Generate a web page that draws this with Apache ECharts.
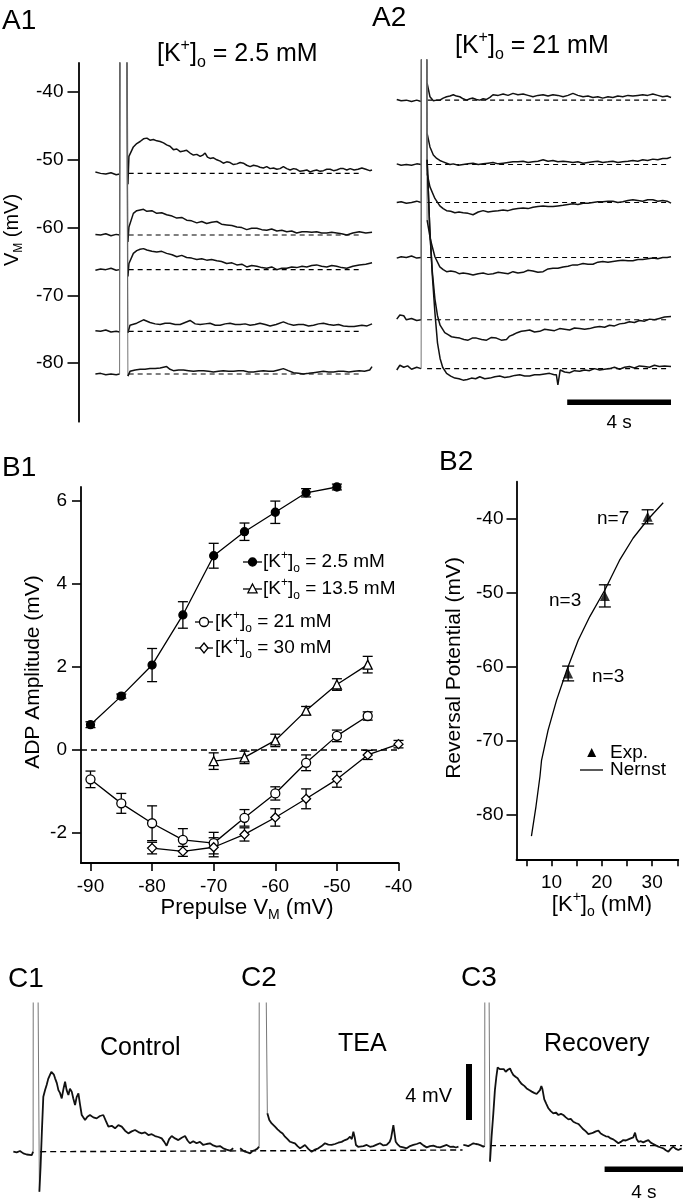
<!DOCTYPE html>
<html><head><meta charset="utf-8">
<script src="https://cdn.jsdelivr.net/npm/echarts@6/dist/echarts.min.js"></script>
<style>html,body{margin:0;padding:0;background:#fff}#c{width:686px;height:1200px}</style>
</head><body><div id="c"></div>
<script>
// ---------------- DATA ----------------
// Panel A1: [K+]o = 2.5 mM, time (s, 0 = stimulus) vs membrane potential (mV); 20 = spike peak (off scale)
const A1_BASE = [-52.0, -61.1, -66.2, -75.3, -81.6];
const A1_DASH_T = [0.33, 9.2];
const A1_T1 = [[-0.95,-51.8],[-0.75,-52.0],[-0.55,-52.1],[-0.35,-51.9],[-0.15,-52.2],[-0.02,-52.1],[0.01,20],[0.2,20],[0.3,-53.6],[0.34,-49.5],[0.51,-48.1],[0.64,-47.6],[0.77,-47.3],[0.9,-46.9],[1.03,-46.8],[1.15,-47.1],[1.28,-47.0],[1.41,-47.2],[1.54,-47.3],[1.67,-47.5],[1.79,-47.8],[1.92,-48.0],[2.05,-48.5],[2.18,-48.4],[2.31,-48.8],[2.44,-48.7],[2.56,-48.6],[2.69,-49.0],[2.82,-49.3],[2.95,-49.2],[3.08,-49.5],[3.18,-49.3],[3.27,-49.0],[3.36,-49.6],[3.46,-49.8],[3.59,-49.7],[3.72,-50.0],[3.85,-50.2],[3.97,-50.5],[4.1,-50.3],[4.23,-50.4],[4.36,-50.7],[4.49,-50.6],[4.62,-50.4],[4.74,-50.5],[4.87,-50.8],[5.0,-51.0],[5.13,-50.8],[5.26,-50.9],[5.38,-51.1],[5.51,-51.2],[5.64,-51.0],[5.77,-51.3],[5.9,-51.2],[6.03,-51.4],[6.15,-51.3],[6.28,-51.0],[6.41,-51.3],[6.54,-51.5],[6.67,-51.3],[6.79,-51.4],[6.92,-51.7],[7.05,-51.6],[7.18,-51.5],[7.31,-51.8],[7.44,-51.6],[7.56,-51.5],[7.69,-51.7],[7.82,-51.6],[7.95,-51.4],[8.08,-51.4],[8.21,-51.6],[8.33,-51.5],[8.46,-51.3],[8.59,-51.3],[8.72,-51.5],[8.85,-51.3],[9.0,-51.5],[9.15,-51.4],[9.3,-51.2],[9.45,-51.4],[9.6,-51.6],[9.69,-51.5]];
const A1_T2 = [[-0.95,-61.0],[-0.75,-61.1],[-0.55,-60.9],[-0.35,-61.2],[-0.15,-61.0],[-0.02,-61.1],[0.01,20],[0.2,20],[0.3,-62.1],[0.34,-59.9],[0.51,-57.9],[0.64,-57.5],[0.77,-57.4],[0.9,-57.3],[1.03,-57.6],[1.22,-57.5],[1.41,-57.9],[1.6,-57.8],[1.79,-58.1],[2.0,-58.3],[2.18,-58.6],[2.37,-58.5],[2.56,-58.9],[2.75,-59.0],[2.95,-59.3],[3.14,-59.1],[3.33,-59.4],[3.52,-59.2],[3.72,-59.1],[3.9,-59.5],[4.1,-59.6],[4.3,-59.7],[4.49,-59.9],[4.68,-60.0],[4.87,-60.3],[5.06,-60.1],[5.26,-60.1],[5.45,-60.3],[5.64,-60.4],[5.83,-60.2],[6.03,-60.5],[6.22,-60.4],[6.41,-60.6],[6.6,-60.5],[6.79,-60.8],[7.0,-60.6],[7.18,-60.6],[7.37,-60.7],[7.56,-60.6],[7.75,-60.8],[7.95,-60.8],[8.14,-60.7],[8.33,-60.8],[8.52,-60.9],[8.72,-61.1],[8.95,-60.8],[9.2,-60.6],[9.45,-60.8],[9.69,-60.7]];
const A1_T3 = [[-0.95,-66.3],[-0.75,-66.1],[-0.55,-66.2],[-0.35,-66.0],[-0.15,-66.3],[-0.02,-66.2],[0.01,20],[0.2,20],[0.3,-67.2],[0.34,-65.3],[0.51,-63.8],[0.64,-63.4],[0.77,-63.2],[0.9,-63.1],[1.03,-63.3],[1.22,-63.5],[1.41,-63.6],[1.6,-63.5],[1.79,-63.8],[2.0,-64.0],[2.18,-64.3],[2.37,-64.1],[2.56,-64.4],[2.75,-64.5],[2.95,-64.7],[3.14,-64.6],[3.33,-64.8],[3.52,-64.7],[3.72,-64.9],[3.9,-65.0],[4.1,-65.3],[4.3,-65.2],[4.49,-65.5],[4.68,-65.4],[4.87,-65.8],[5.06,-65.6],[5.26,-65.7],[5.45,-65.9],[5.64,-66.0],[5.83,-65.8],[6.03,-66.2],[6.22,-66.0],[6.41,-66.0],[6.6,-65.8],[6.79,-65.9],[7.0,-65.7],[7.18,-65.8],[7.37,-65.6],[7.56,-65.5],[7.75,-65.7],[7.95,-65.8],[8.14,-65.6],[8.33,-65.7],[8.52,-65.9],[8.72,-66.0],[8.95,-65.7],[9.2,-65.5],[9.45,-65.4],[9.69,-65.2]];
const A1_T4 = [[-0.95,-75.2],[-0.75,-75.3],[-0.55,-75.1],[-0.35,-75.4],[-0.15,-75.3],[-0.02,-75.4],[0.01,20],[0.2,20],[0.3,-75.5],[0.38,-74.4],[0.64,-74.1],[0.9,-73.6],[1.15,-74.0],[1.35,-74.2],[1.54,-74.3],[1.73,-74.1],[1.92,-74.1],[2.12,-74.3],[2.31,-74.3],[2.5,-74.0],[2.69,-73.7],[2.89,-74.2],[3.08,-74.3],[3.27,-74.2],[3.46,-74.1],[3.66,-74.4],[3.85,-74.4],[4.04,-74.2],[4.23,-74.1],[4.43,-74.3],[4.62,-74.3],[4.81,-74.2],[5.0,-74.4],[5.19,-74.3],[5.38,-74.1],[5.58,-74.3],[5.77,-74.5],[6.0,-74.3],[6.28,-73.9],[6.47,-74.2],[6.67,-74.4],[6.86,-74.3],[7.05,-74.3],[7.25,-74.5],[7.44,-74.4],[7.63,-74.2],[7.82,-74.1],[8.02,-74.3],[8.21,-74.4],[8.4,-74.3],[8.59,-74.5],[8.8,-74.6],[9.0,-74.6],[9.3,-74.4],[9.5,-74.5],[9.69,-74.2]];
const A1_T5 = [[-0.95,-81.6],[-0.75,-81.5],[-0.55,-81.7],[-0.35,-81.6],[-0.15,-81.7],[-0.02,-81.6],[0.01,20],[0.2,20],[0.3,-81.9],[0.38,-81.2],[0.58,-81.0],[0.77,-80.9],[0.96,-80.9],[1.15,-80.8],[1.35,-80.8],[1.54,-80.7],[1.79,-80.5],[1.92,-80.9],[2.05,-81.1],[2.25,-81.0],[2.44,-81.0],[2.63,-81.1],[2.82,-81.2],[3.02,-81.1],[3.21,-81.1],[3.4,-81.2],[3.59,-81.3],[3.78,-81.2],[3.97,-81.1],[4.17,-81.2],[4.36,-81.2],[4.55,-81.1],[4.74,-81.1],[4.94,-81.3],[5.13,-81.3],[5.32,-81.2],[5.51,-81.1],[5.71,-81.2],[5.9,-81.2],[6.09,-81.0],[6.28,-80.8],[6.47,-81.1],[6.67,-81.4],[6.86,-81.5],[7.05,-81.6],[7.25,-81.5],[7.44,-81.4],[7.63,-81.3],[7.82,-81.2],[8.02,-81.3],[8.21,-81.3],[8.4,-81.2],[8.59,-81.2],[8.8,-81.3],[9.0,-81.2],[9.2,-81.1],[9.4,-81.2],[9.6,-81.0],[9.69,-80.5]];

// Panel A2: [K+]o = 21 mM
const A2_BASE = [-41.2, -50.7, -56.3, -64.4, -73.6, -80.8];
const A2_DASH_T = [0.2, 9.5];
const A2_T1 = [[-0.97,-41.1],[-0.8,-41.3],[-0.6,-41.2],[-0.4,-41.4],[-0.2,-41.2],[-0.03,-41.4],[0.0,20],[0.15,20],[0.2,-38.7],[0.31,-40.7],[0.44,-41.3],[0.57,-41.2],[0.69,-41.2],[0.82,-40.9],[0.95,-40.7],[1.08,-40.6],[1.21,-40.4],[1.33,-40.6],[1.46,-40.7],[1.59,-41.0],[1.72,-41.2],[1.85,-41.0],[1.97,-40.9],[2.1,-41.1],[2.23,-41.2],[2.36,-41.0],[2.49,-41.1],[2.62,-40.8],[2.74,-40.4],[2.94,-40.5],[3.13,-40.3],[3.32,-40.5],[3.51,-40.2],[3.7,-40.4],[3.9,-40.3],[4.09,-40.5],[4.28,-40.7],[4.47,-40.5],[4.67,-40.4],[4.86,-40.6],[5.05,-40.4],[5.24,-40.5],[5.44,-40.7],[5.63,-40.5],[5.82,-40.2],[6.01,-40.5],[6.21,-40.7],[6.4,-40.6],[6.59,-40.8],[6.78,-40.7],[6.97,-40.9],[7.17,-40.7],[7.36,-40.8],[7.55,-40.6],[7.74,-40.7],[7.94,-40.5],[8.13,-40.6],[8.32,-40.5],[8.51,-40.4],[8.7,-40.5],[8.9,-40.3],[9.09,-40.5],[9.28,-40.7],[9.45,-40.6],[9.6,-40.8]];
const A2_T2 = [[-0.97,-50.6],[-0.8,-50.8],[-0.6,-50.7],[-0.4,-50.8],[-0.2,-50.6],[-0.03,-50.7],[0.0,20],[0.15,20],[0.2,-46.1],[0.31,-48.1],[0.44,-49.3],[0.57,-49.8],[0.69,-50.1],[0.82,-50.3],[0.95,-50.5],[1.08,-50.7],[1.21,-50.6],[1.4,-50.8],[1.59,-50.7],[1.78,-50.6],[1.97,-50.5],[2.17,-50.7],[2.36,-50.6],[2.55,-50.5],[2.74,-50.4],[2.94,-50.6],[3.13,-50.5],[3.32,-50.4],[3.51,-50.3],[3.7,-50.3],[3.9,-50.2],[4.09,-50.4],[4.28,-50.3],[4.47,-50.2],[4.67,-50.0],[4.86,-50.2],[5.05,-50.1],[5.24,-50.3],[5.44,-50.2],[5.63,-50.3],[5.82,-50.4],[6.01,-50.3],[6.21,-50.5],[6.4,-50.4],[6.59,-50.3],[6.78,-50.2],[6.97,-50.4],[7.17,-50.3],[7.36,-50.2],[7.55,-50.4],[7.74,-50.3],[7.94,-50.2],[8.13,-50.1],[8.32,-50.2],[8.51,-50.0],[8.7,-50.1],[8.9,-49.9],[9.09,-50.0],[9.28,-49.8],[9.45,-49.8],[9.6,-49.6]];
const A2_T3 = [[-0.97,-56.3],[-0.8,-56.2],[-0.6,-56.4],[-0.4,-56.3],[-0.2,-56.1],[-0.03,-56.3],[0.0,20],[0.15,20],[0.2,-52.0],[0.31,-54.0],[0.5,-55.7],[0.69,-56.8],[0.82,-57.2],[0.95,-57.5],[1.11,-57.6],[1.27,-57.8],[1.43,-57.7],[1.59,-57.8],[1.78,-57.9],[1.97,-58.1],[2.17,-57.7],[2.36,-57.5],[2.55,-57.7],[2.74,-57.6],[2.94,-57.5],[3.13,-57.4],[3.32,-57.5],[3.51,-57.3],[3.7,-57.2],[3.9,-57.1],[4.09,-57.2],[4.28,-57.0],[4.47,-56.9],[4.67,-56.8],[4.86,-56.9],[5.05,-56.9],[5.24,-56.8],[5.44,-56.7],[5.63,-56.6],[5.82,-56.5],[6.01,-56.6],[6.21,-56.4],[6.4,-56.4],[6.59,-56.3],[6.78,-56.2],[6.97,-56.2],[7.17,-56.1],[7.36,-56.1],[7.55,-56.3],[7.74,-56.2],[7.94,-56.0],[8.13,-55.9],[8.32,-56.0],[8.51,-56.1],[8.7,-55.9],[8.9,-55.9],[9.09,-56.1],[9.28,-56.0],[9.45,-56.1],[9.6,-56.4]];
const A2_T4 = [[-0.97,-64.5],[-0.8,-64.3],[-0.6,-64.4],[-0.4,-64.2],[-0.2,-64.5],[-0.03,-64.4],[0.0,20],[0.15,20],[0.2,-58.9],[0.33,-61.8],[0.5,-64.3],[0.69,-65.8],[0.82,-66.2],[0.95,-66.5],[1.11,-66.4],[1.27,-66.5],[1.43,-66.8],[1.59,-66.7],[1.78,-66.8],[1.97,-67.0],[2.17,-66.8],[2.36,-66.7],[2.55,-66.9],[2.74,-66.8],[2.94,-66.6],[3.13,-66.7],[3.32,-66.8],[3.51,-66.5],[3.7,-66.7],[3.9,-66.6],[4.09,-66.3],[4.28,-66.4],[4.47,-66.6],[4.67,-66.5],[4.86,-66.1],[5.05,-66.0],[5.24,-66.0],[5.44,-65.8],[5.63,-65.7],[5.82,-65.5],[6.01,-65.5],[6.21,-65.3],[6.4,-65.4],[6.59,-65.4],[6.78,-65.1],[6.97,-65.0],[7.17,-65.1],[7.36,-65.0],[7.55,-64.9],[7.74,-64.8],[7.94,-64.9],[8.13,-64.9],[8.32,-64.7],[8.51,-64.7],[8.7,-64.6],[8.9,-64.5],[9.09,-64.6],[9.28,-64.4],[9.45,-64.4],[9.6,-64.3]];
const A2_T5 = [[-0.97,-73.5],[-0.85,-72.9],[-0.7,-73.0],[-0.6,-73.6],[-0.4,-73.4],[-0.2,-73.7],[-0.03,-73.6],[0.0,20],[0.15,20],[0.2,-50.0],[0.3,-60.0],[0.4,-66.5],[0.5,-70.5],[0.6,-73.0],[0.7,-74.4],[0.88,-75.5],[1.01,-75.8],[1.14,-76.1],[1.3,-76.2],[1.46,-76.3],[1.62,-76.5],[1.78,-76.6],[1.94,-76.3],[2.1,-76.3],[2.3,-76.5],[2.49,-76.6],[2.68,-76.2],[2.87,-76.3],[3.06,-76.6],[3.26,-76.5],[3.38,-76.0],[3.51,-75.8],[3.67,-75.5],[3.83,-75.3],[3.99,-75.2],[4.15,-75.1],[4.34,-75.4],[4.54,-75.3],[4.73,-75.0],[4.92,-75.1],[5.11,-75.2],[5.31,-74.9],[5.5,-75.0],[5.69,-75.1],[5.88,-74.8],[6.08,-74.9],[6.27,-75.0],[6.46,-74.9],[6.65,-74.7],[6.85,-74.6],[7.04,-74.7],[7.23,-74.4],[7.42,-74.5],[7.62,-74.2],[7.81,-74.1],[8.0,-73.9],[8.19,-74.0],[8.38,-73.7],[8.58,-73.8],[8.77,-73.5],[8.96,-73.6],[9.15,-73.4],[9.35,-73.2],[9.6,-73.1]];
const A2_T6 = [[-0.97,-81.0],[-0.85,-80.3],[-0.7,-80.6],[-0.55,-80.4],[-0.4,-80.9],[-0.2,-80.6],[-0.03,-80.8],[0.0,20],[0.15,20],[0.2,-50.0],[0.3,-60.0],[0.4,-67.0],[0.5,-72.5],[0.6,-77.0],[0.7,-79.3],[0.8,-80.6],[0.95,-81.5],[1.11,-81.9],[1.27,-82.2],[1.43,-82.3],[1.59,-82.5],[1.75,-82.4],[1.91,-82.2],[2.07,-82.3],[2.23,-82.0],[2.42,-82.3],[2.62,-82.2],[2.81,-82.0],[3.0,-81.9],[3.19,-82.1],[3.38,-82.0],[3.58,-81.8],[3.77,-81.7],[3.96,-81.9],[4.15,-81.9],[4.34,-81.7],[4.54,-81.7],[4.73,-81.6],[4.92,-81.5],[5.1,-81.7],[5.18,-81.7],[5.24,-83.2],[5.33,-81.0],[5.5,-81.3],[5.69,-81.4],[5.88,-81.1],[6.08,-81.2],[6.27,-81.0],[6.46,-81.1],[6.65,-80.8],[6.85,-81.0],[7.04,-80.9],[7.23,-80.8],[7.42,-80.6],[7.62,-80.9],[7.81,-80.6],[8.0,-80.5],[8.19,-80.7],[8.38,-80.4],[8.58,-80.5],[8.77,-80.6],[8.96,-80.3],[9.15,-80.5],[9.35,-80.4],[9.6,-80.5]];

// Panel B1: ADP amplitude vs prepulse potential
const B1_X_25 = [-90,-85,-80,-75,-70,-65,-60,-55,-50];
const B1_Y_25 = [0.60,1.29,2.04,3.25,4.68,5.26,5.73,6.20,6.34];
const B1_E_25 = [0.07,0.05,0.40,0.32,0.30,0.21,0.27,0.10,0.07];
const B1_X_135 = [-70,-65,-60,-55,-50,-45];
const B1_Y_135 = [-0.28,-0.19,0.22,0.94,1.57,2.05];
const B1_E_135 = [0.20,0.15,0.15,0.10,0.14,0.20];
const B1_X_21 = [-90,-85,-80,-75,-70,-65,-60,-55,-50,-45];
const B1_Y_21 = [-0.72,-1.30,-1.78,-2.18,-2.26,-1.65,-1.06,-0.32,0.33,0.81];
const B1_E_21 = [0.20,0.24,0.42,0.27,0.26,0.20,0.16,0.19,0.14,0.10];
const B1_X_30 = [-80,-75,-70,-65,-60,-55,-50,-45,-40];
const B1_Y_30 = [-2.38,-2.46,-2.36,-2.05,-1.64,-1.19,-0.72,-0.13,0.13];
const B1_E_30 = [0.14,0.12,0.23,0.16,0.21,0.24,0.19,0.11,0.09];
const B1_XTICKS = [-90,-80,-70,-60,-50,-40];
const B1_YTICKS = [-2,0,2,4,6];

// Panel B2: reversal potential vs [K+]o
const B2_EXP_K = [13.3, 20.6, 29.1];
const B2_EXP_E = [-60.9, -50.4, -39.7];
const B2_EXP_ERR = [1.0, 1.5, 0.95];
const B2_EXP_N = ['n=3', 'n=3', 'n=7'];
const B2_NERNST_K = [6.0,6.9,7.7,8.0,9.3,11.0,13.0,15.3,17.6,20.6,23.5,26.2,29.1,32.2];
const B2_NERNST_E = [-82.9,-78.9,-74.8,-72.7,-68.6,-64.5,-60.5,-56.4,-53.2,-49.6,-45.6,-42.6,-40.1,-37.8];
const B2_XTICKS = [5,10,15,20,25,30,35];
const B2_XLABELS = [10,20,30];
const B2_YTICKS = [-80,-70,-60,-50,-40];
const A_YTICKS = [-80,-70,-60,-50,-40];

// Panel C: ADP in control, TEA, recovery (time s, relative mV)
const C1 = [[0.68,0.0],[0.85,-0.05],[1.02,0.05],[1.19,-0.12],[1.36,-0.2],[1.45,-0.31],[1.62,-0.24],[1.69,0.0],[1.70,20],[1.90,20],[2.01,-2.86],[2.07,-1.07],[2.14,1.55],[2.21,3.93],[2.30,4.4],[2.38,4.76],[2.46,5.2],[2.55,5.48],[2.62,5.7],[2.69,5.6],[2.75,5.5],[2.81,5.24],[2.9,4.9],[2.98,4.4],[3.06,4.2],[3.15,3.81],[3.24,4.5],[3.32,5.0],[3.4,4.4],[3.49,4.05],[3.57,4.5],[3.66,4.29],[3.74,3.8],[3.83,3.33],[3.91,3.9],[4.0,4.17],[4.08,3.4],[4.17,2.62],[4.25,2.5],[4.34,2.26],[4.46,2.5],[4.59,2.62],[4.76,2.45],[4.93,2.38],[5.1,2.55],[5.27,2.62],[5.4,2.2],[5.53,1.79],[5.7,1.85],[5.87,1.67],[6.04,1.9],[6.21,1.79],[6.38,1.5],[6.55,1.31],[6.72,1.45],[6.89,1.55],[7.06,1.4],[7.23,1.31],[7.4,1.38],[7.57,1.19],[7.74,1.25],[7.91,1.12],[8.08,1.05],[8.25,0.95],[8.38,0.7],[8.5,0.43],[8.63,0.9],[8.76,1.12],[8.93,0.95],[9.1,0.83],[9.27,1.0],[9.44,1.12],[9.57,0.8],[9.69,0.6],[9.86,0.75],[10.03,0.6],[10.2,0.7],[10.37,0.48],[10.54,0.55],[10.71,0.6],[10.88,0.45],[11.05,0.36],[11.22,0.4],[11.39,0.24],[11.56,0.15],[11.73,0.07],[11.9,0.24]];
const C2 = [[12.25,0.24],[12.38,0.1],[12.5,0.0],[12.63,-0.05],[12.76,-0.12],[12.88,0.05],[13.01,0.12],[13.12,0.2],[13.22,0.36],[13.23,20],[13.52,20],[13.64,2.74],[13.74,2.26],[13.86,2.02],[13.95,1.9],[14.03,1.79],[14.16,1.6],[14.29,1.43],[14.42,1.3],[14.54,1.07],[14.67,0.9],[14.8,0.71],[14.93,0.65],[15.05,0.6],[15.18,0.4],[15.31,0.24],[15.43,0.35],[15.56,0.48],[15.73,0.2],[15.9,0.0],[16.07,0.15],[16.24,0.24],[16.41,0.4],[16.58,0.6],[16.75,0.5],[16.92,0.48],[17.09,0.55],[17.26,0.64],[17.43,0.7],[17.6,0.83],[17.73,0.9],[17.86,1.07],[17.95,0.9],[18.03,1.43],[18.1,1.0],[18.16,0.48],[18.27,0.35],[18.37,0.24],[18.54,0.4],[18.71,0.48],[18.88,0.35],[19.05,0.4],[19.22,0.5],[19.39,0.6],[19.56,0.45],[19.73,0.48],[19.88,0.7],[19.95,0.95],[20.07,1.9],[20.19,0.71],[20.3,0.5],[20.41,0.36],[20.58,0.3],[20.75,0.24],[20.92,0.4],[21.09,0.48],[21.26,0.55],[21.43,0.64],[21.6,0.45],[21.77,0.31],[21.94,0.4],[22.11,0.43],[22.28,0.35],[22.45,0.31],[22.62,0.4],[22.79,0.48],[22.96,0.35],[23.13,0.36],[23.26,0.3],[23.39,0.36]];
const C3 = [[23.64,0.48],[23.77,0.45],[23.89,0.4],[24.02,0.5],[24.15,0.6],[24.28,0.55],[24.4,0.52],[24.53,0.45],[24.66,0.36],[24.73,0.43],[24.74,20],[24.92,20],[25.0,-0.71],[25.08,1.07],[25.17,2.74],[25.25,4.4],[25.32,5.3],[25.39,6.02],[25.5,5.9],[25.6,5.83],[25.7,5.9],[25.8,5.71],[25.91,5.85],[26.02,5.95],[26.1,5.7],[26.19,5.48],[26.3,5.35],[26.41,5.24],[26.52,5.0],[26.62,4.83],[26.75,4.7],[26.87,4.52],[27.0,4.4],[27.13,4.29],[27.25,4.2],[27.38,4.12],[27.47,4.25],[27.55,4.4],[27.62,4.69],[27.67,4.5],[27.77,3.74],[27.88,3.4],[27.98,3.1],[28.1,2.9],[28.23,2.74],[28.36,2.8],[28.49,2.62],[28.62,2.7],[28.74,2.62],[28.87,2.45],[29.0,2.31],[29.12,2.35],[29.25,2.14],[29.38,2.05],[29.51,1.98],[29.63,1.8],[29.76,1.6],[29.89,1.45],[30.02,1.26],[30.15,1.3],[30.27,1.36],[30.4,1.45],[30.53,1.5],[30.65,1.3],[30.78,1.19],[30.91,1.1],[31.04,1.07],[31.16,0.95],[31.29,0.88],[31.42,0.75],[31.55,0.6],[31.67,0.7],[31.8,0.83],[31.93,0.8],[32.06,0.88],[32.18,0.95],[32.31,1.02],[32.4,1.36],[32.48,0.9],[32.57,0.71],[32.7,0.75],[32.82,0.67],[32.95,0.75],[33.08,0.83],[33.2,0.65],[33.33,0.55],[33.46,0.45],[33.59,0.36],[33.71,0.3],[33.84,0.24],[33.97,0.1],[34.1,0.0],[34.22,0.2],[34.35,0.36],[34.48,0.2],[34.61,0.12],[34.7,0.25],[34.78,0.24]];
const C_DASH = [[[2.05,0.0],[23.6,0.12]], [[25.0,0.43],[34.8,0.43]]];
const SCALE_T = 4;   // s
const SCALE_MV = 4;  // mV

// ---------------- CHART ----------------
const FF = '"Liberation Sans", Arial, Helvetica, sans-serif';
const chart = echarts.init(document.getElementById('c'), null, {renderer: 'canvas'});

function lineS(d, xi, color, w) {
  return {type: 'line', xAxisIndex: xi, yAxisIndex: xi, data: d, showSymbol: false, symbol: 'none',
    silent: true, animation: false, clip: true, lineStyle: {color: color, width: w}, z: 3};
}
// a trace: baseline/ADP parts drawn heavy, the (off-scale) spike drawn as thin grey strokes
function trace(d, xi, w) {
  let i0 = -1, i1 = -1;
  d.forEach((p, i) => { if (p[1] >= 20) { if (i0 < 0) i0 = i; i1 = i; } });
  return [lineS(d.slice(0, i0), xi, '#111', w), lineS(d.slice(i0 - 1, i1 + 2), xi, '#666', 0.9),
          lineS(d.slice(i1 + 1), xi, '#111', w)];
}
function dash(a, b, xi, w, pat) {
  return {type: 'line', xAxisIndex: xi, yAxisIndex: xi, data: [a, b], showSymbol: false, symbol: 'none',
    silent: true, animation: false, lineStyle: {color: '#000', width: w, type: pat}, z: 2};
}
function zip(xs, ys) { return xs.map((x, i) => [x, ys[i]]); }
function errData(xs, ys, es) { return xs.map((x, i) => [x, ys[i] - es[i], ys[i] + es[i]]); }
function errSeries(xs, ys, es, xi, cap) {
  return {type: 'custom', xAxisIndex: xi, yAxisIndex: xi, silent: true, z: 1, data: errData(xs, ys, es),
    renderItem: function (params, api) {
      const x = api.value(0), lo = api.value(1), hi = api.value(2);
      const a = api.coord([x, hi]), b = api.coord([x, lo]);
      const st = {stroke: '#000', lineWidth: 1.3};
      return {type: 'group', children: [
        {type: 'line', shape: {x1: a[0], y1: a[1], x2: b[0], y2: b[1]}, style: st},
        {type: 'line', shape: {x1: a[0] - cap, y1: a[1], x2: a[0] + cap, y2: a[1]}, style: st},
        {type: 'line', shape: {x1: b[0] - cap, y1: b[1], x2: b[0] + cap, y2: b[1]}, style: st}
      ]};
    }};
}
function ptsSeries(xs, ys, symbol, size, filled) {
  return {type: 'line', xAxisIndex: 2, yAxisIndex: 2, data: zip(xs, ys), symbol: symbol, symbolSize: size,
    showSymbol: true, silent: true, z: 5,
    lineStyle: {color: '#000', width: 1.3},
    itemStyle: {color: filled ? '#000' : '#fff', borderColor: '#000', borderWidth: 1.3}};
}

const axLine = {show: true, onZero: false, lineStyle: {color: '#000', width: 1.8}};
const lab = (m) => ({color: '#000', fontSize: 19, fontFamily: FF, margin: m});
const tk = (len, vals) => ({show: true, length: len, customValues: vals, lineStyle: {color: '#000', width: 1.6}});

const series = [];
[A1_T1, A1_T2, A1_T3, A1_T4, A1_T5].forEach(d => series.push(...trace(d, 0, 1.5)));
A1_BASE.forEach(b => series.push(dash([A1_DASH_T[0], b], [A1_DASH_T[1], b], 0, 1.1, [5, 4])));
[A2_T1, A2_T2, A2_T3, A2_T4, A2_T5, A2_T6].forEach(d => series.push(...trace(d, 1, 1.5)));
A2_BASE.forEach(b => series.push(dash([A2_DASH_T[0], b], [A2_DASH_T[1], b], 1, 1.1, [5, 4])));

const s25 = ptsSeries(B1_X_25, B1_Y_25, 'circle', 8, true);
s25.markLine = {silent: true, symbol: 'none', animation: false, label: {show: false},
  lineStyle: {color: '#000', width: 1.6, type: [6, 4]}, data: [{yAxis: 0}]};
series.push(errSeries(B1_X_25, B1_Y_25, B1_E_25, 2, 5), s25);
series.push(errSeries(B1_X_135, B1_Y_135, B1_E_135, 2, 5), ptsSeries(B1_X_135, B1_Y_135, 'triangle', 9, false));
series.push(errSeries(B1_X_21, B1_Y_21, B1_E_21, 2, 5), ptsSeries(B1_X_21, B1_Y_21, 'circle', 9, false));
series.push(errSeries(B1_X_30, B1_Y_30, B1_E_30, 2, 5), ptsSeries(B1_X_30, B1_Y_30, 'diamond', 9, false));

series.push(lineS(zip(B2_NERNST_K, B2_NERNST_E), 3, '#000', 1.3));
series.push(errSeries(B2_EXP_K, B2_EXP_E, B2_EXP_ERR, 3, 6));
series.push({type: 'scatter', xAxisIndex: 3, yAxisIndex: 3, data: zip(B2_EXP_K, B2_EXP_E), symbol: 'triangle',
  symbolSize: 10, silent: true, itemStyle: {color: '#000'}, z: 5});

[C1, C2, C3].forEach(d => series.push(...trace(d, 4, 1.8)));
C_DASH.forEach(s => series.push(dash(s[0], s[1], 4, 1.4, [6, 4])));

const option = {
  animation: false,
  backgroundColor: '#fff',
  textStyle: {fontFamily: FF},
  grid: [
    {left: 78.5, top: 63, width: 314.6, height: 358.7, outerBoundsMode: 'none'},
    {left: 380.4, top: 60, width: 301, height: 361.7, outerBoundsMode: 'none'},
    {left: 81, top: 487, width: 317.5, height: 376, outerBoundsMode: 'none'},
    {left: 516.5, top: 481.7, width: 161.8, height: 377.6, outerBoundsMode: 'none'},
    {left: 0, top: 1003, width: 686, height: 197, outerBoundsMode: 'none'}
  ],
  xAxis: [
    {type: 'value', gridIndex: 0, min: -1.6, max: 10.5, show: false},
    {type: 'value', gridIndex: 1, min: -1.6, max: 10, show: false},
    {type: 'value', gridIndex: 2, min: -91.54, max: -40, axisLine: axLine, splitLine: {show: false},
      axisTick: tk(8, B1_XTICKS), axisLabel: Object.assign(lab(14), {customValues: B1_XTICKS})},
    {type: 'value', gridIndex: 3, min: 3.03, max: 35.2, axisLine: axLine, splitLine: {show: false},
      axisTick: tk(7, B2_XTICKS), axisLabel: Object.assign(lab(14), {customValues: B2_XLABELS})},
    {type: 'value', gridIndex: 4, min: 0, max: 35, show: false}
  ],
  yAxis: [
    {type: 'value', gridIndex: 0, min: -88.63, max: -35.72, axisLine: axLine, splitLine: {show: false},
      axisTick: tk(11, A_YTICKS), axisLabel: Object.assign(lab(15), {customValues: A_YTICKS})},
    {type: 'value', gridIndex: 1, min: -88.63, max: -35.28, show: false},
    {type: 'value', gridIndex: 2, min: -2.74, max: 6.34, axisLine: axLine, splitLine: {show: false},
      axisTick: tk(9, B1_YTICKS), axisLabel: Object.assign(lab(14), {customValues: B1_YTICKS})},
    {type: 'value', gridIndex: 3, min: -86.04, max: -34.95, axisLine: axLine, splitLine: {show: false},
      axisTick: tk(10, B2_YTICKS), axisLabel: Object.assign(lab(13), {customValues: B2_YTICKS})},
    {type: 'value', gridIndex: 4, min: -3.45, max: 10.62, show: false}
  ],
  series: series
};
chart.setOption(option);

// ---------------- TEXT / ANNOTATIONS ----------------
function richSet(fs) {
  const L = Math.round(fs * 1.3);
  return {
    m: {fontSize: fs, fontFamily: FF, fill: '#000', lineHeight: L},
    sup: {fontSize: Math.round(fs * 0.62), fontFamily: FF, fill: '#000', lineHeight: Math.round(L - fs * 0.5), verticalAlign: 'top'},
    sub: {fontSize: Math.round(fs * 0.62), fontFamily: FF, fill: '#000', lineHeight: Math.round(L - fs * 0.42), verticalAlign: 'bottom'}
  };
}
function T(x, y, text, fs, o) {
  o = o || {};
  const al = o.align || 'left';
  const st = {x: 0, y: 0, text: text, fill: '#000', fontSize: fs, fontFamily: FF,
    align: al, verticalAlign: 'middle', textAlign: al, textVerticalAlign: 'middle'};
  if (o.rich) st.rich = o.rich;
  return {type: 'text', x: x, y: y, rotation: o.rot || 0, z: 100, silent: true, style: st};
}
const kTxt = (rest) => '{m|[K}{sup|+}{m|]}{sub|o}{m|' + rest + '}';

const G = [];
// panel labels
G.push(T(2, 21, 'A1', 28), T(372, 18, 'A2', 28), T(2, 468, 'B1', 28), T(439, 462, 'B2', 28),
       T(8, 979, 'C1', 28), T(241, 978, 'C2', 28), T(461, 978, 'C3', 28));
// A titles
G.push(T(157, 54, kTxt(' = 2.5 mM'), 25, {rich: richSet(25)}));
G.push(T(455, 46, kTxt(' = 21 mM'), 25, {rich: richSet(25)}));
// axis names
G.push(T(12, 230, '{m|V}{sub|M}{m| (mV)}', 20, {rich: richSet(20), align: 'center', rot: Math.PI / 2}));
G.push(T(33, 672, 'ADP Amplitude (mV)', 21, {align: 'center', rot: Math.PI / 2}));
G.push(T(247, 908, '{m|Prepulse V}{sub|M}{m| (mV)}', 22, {rich: richSet(22), align: 'center'}));
G.push(T(454, 668, 'Reversal Potential (mV)', 21, {align: 'center', rot: Math.PI / 2}));
G.push(T(602, 905, kTxt(' (mM)'), 22, {rich: richSet(22), align: 'center'}));
// B1 legend
function legendMark(x1, x2, y, kind) {
  const cx = (x1 + x2) / 2;
  const out = [{type: 'line', z: 100, silent: true, shape: {x1: x1, y1: y, x2: x2, y2: y}, style: {stroke: '#000', lineWidth: 1.3}}];
  const st = {fill: kind === 'fcircle' ? '#000' : '#fff', stroke: '#000', lineWidth: 1.3};
  if (kind === 'fcircle' || kind === 'ocircle') out.push({type: 'circle', z: 101, silent: true, shape: {cx: cx, cy: y, r: kind === 'fcircle' ? 4 : 4.5}, style: st});
  if (kind === 'triangle') out.push({type: 'polygon', z: 101, silent: true, shape: {points: [[cx, y - 5], [cx + 4.6, y + 3.8], [cx - 4.6, y + 3.8]]}, style: st});
  if (kind === 'diamond') out.push({type: 'polygon', z: 101, silent: true, shape: {points: [[cx, y - 5], [cx + 4, y], [cx, y + 5], [cx - 4, y]]}, style: st});
  return out;
}
G.push(...legendMark(243, 262, 562, 'fcircle'), T(263, 562, kTxt(' = 2.5 mM'), 19, {rich: richSet(19)}));
G.push(...legendMark(243, 262, 589, 'triangle'), T(263, 589, kTxt(' = 13.5 mM'), 19, {rich: richSet(19)}));
G.push(...legendMark(195, 213, 622, 'ocircle'), T(215, 622, kTxt(' = 21 mM'), 19, {rich: richSet(19)}));
G.push(...legendMark(195, 213, 648, 'diamond'), T(215, 648, kTxt(' = 30 mM'), 19, {rich: richSet(19)}));
// B2 legend and n labels
G.push({type: 'polygon', z: 101, silent: true, shape: {points: [[591.7, 748], [596.2, 757], [587.2, 757]]}, style: {fill: '#000'}});
G.push(T(610, 753, 'Exp.', 19));
G.push({type: 'line', z: 100, silent: true, shape: {x1: 580, y1: 770, x2: 603, y2: 770}, style: {stroke: '#000', lineWidth: 1.3}});
G.push(T(610, 770, 'Nernst', 19));
G.push(T(597, 519, B2_EXP_N[2], 19), T(549, 601, B2_EXP_N[1], 19), T(592, 677, B2_EXP_N[0], 19));
// C labels
G.push(T(100, 1048, 'Control', 25), T(338, 1044, 'TEA', 25), T(544, 1044, 'Recovery', 25));

// scale bars (lengths from the axes' scales)
const pA0 = chart.convertToPixel({xAxisIndex: 1, yAxisIndex: 1}, [0, -80]);
const pA1 = chart.convertToPixel({xAxisIndex: 1, yAxisIndex: 1}, [SCALE_T, -80]);
const lenA = pA1[0] - pA0[0];
G.push({type: 'rect', z: 100, silent: true, shape: {x: 671 - lenA, y: 399.5, width: lenA, height: 5.5}, style: {fill: '#000'}});
G.push(T(671 - lenA / 2, 423, '4 s', 19, {align: 'center'}));
const pC0 = chart.convertToPixel({xAxisIndex: 4, yAxisIndex: 4}, [0, 0]);
const pC1 = chart.convertToPixel({xAxisIndex: 4, yAxisIndex: 4}, [SCALE_T, SCALE_MV]);
const lenCt = pC1[0] - pC0[0];
const lenCv = pC0[1] - pC1[1];
G.push({type: 'rect', z: 100, silent: true, shape: {x: 683 - lenCt, y: 1166.5, width: lenCt, height: 5.5}, style: {fill: '#000'}});
G.push(T(683 - lenCt / 2, 1193, '4 s', 19, {align: 'center'}));
G.push({type: 'rect', z: 100, silent: true, shape: {x: 466, y: 1120 - lenCv, width: 6, height: lenCv}, style: {fill: '#000'}});
G.push(T(452, 1096, '4 mV', 20, {align: 'right'}));

chart.setOption({graphic: {elements: G}});
</script></body></html>
